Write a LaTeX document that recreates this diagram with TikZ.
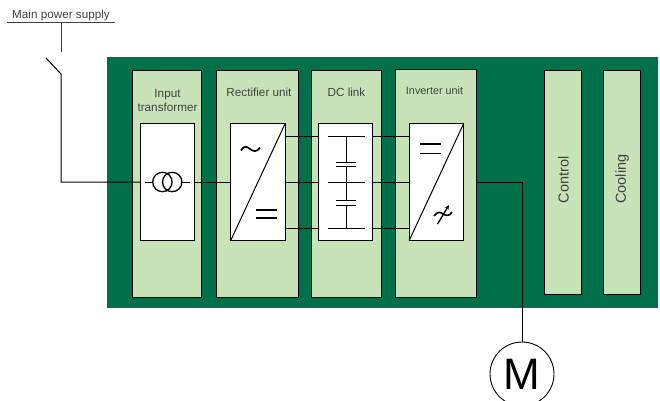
\documentclass[tikz,border=0pt]{standalone}
\usepackage{fontspec}
\setmainfont{Liberation Sans}
\usepackage{tikz}
\usetikzlibrary{arrows.meta,positioning,calc}

\definecolor{panelgreen}{HTML}{00704A}
\definecolor{unitgreen}{HTML}{C9E3B9}
\definecolor{labelgray}{HTML}{404040}

\begin{document}
\begin{tikzpicture}[
    x = 1pt,
    y = -1pt,
    wire/.style = {draw = black, line width = 1pt}, % connecting lines
    symbol/.style = {draw = black, line width = 1.3pt},
    unit/.style = {draw = black, line width = 0.9pt, fill = unitgreen, inner sep = 0pt, outer sep = 0pt, anchor = north west},
    innerbox/.style = {draw = black, line width = 1pt, fill = white, inner sep = 0pt, outer sep = 0pt,
        minimum width = 54.5pt, minimum height = 117pt, anchor = north west},
    caption/.style = {text = labelgray, font = \fontsize{11.7}{14.5}\selectfont, align = center, inner sep = 0pt}
    ]

    \useasboundingbox (0,0) rectangle (660,400);

    \node[fill = panelgreen, inner sep = 0pt, outer sep = 0pt, minimum width = 551pt, minimum height = 251pt, anchor = north west] (panel) at (107,57) {};

    % units
    \node[unit, minimum width = 69pt, minimum height = 227pt] (input) at (132,70) {};
    \node[unit, minimum width = 81.5pt, minimum height = 227pt] (rectifier) at (216.5,70) {};
    \node[unit, minimum width = 69.5pt, minimum height = 227pt] (dclink) at (311.5,70) {};
    \node[unit, minimum width = 81.5pt, minimum height = 228pt] (inverter) at (395,69) {};
    \node[unit, minimum width = 37pt, minimum height = 223.5pt] (control) at (544.7,70.7) {};
    \node[unit, minimum width = 37pt, minimum height = 223.5pt] (cooling) at (603.3,70.7) {};

    \node[innerbox] (inputbox) at (140,123.5) {};
    \node[innerbox] (rectbox) at (230.7,123.5) {};
    \node[innerbox] (dcbox) at (318.4,123.5) {};
    \node[innerbox] (invbox) at (409.2,123.5) {};

    % labels
    \node[caption] (inputlabel) at (167.5,100.5) {Input\\transformer};
    \node[caption] (rectlabel) at (259,92) {Rectifier unit};
    \node[caption] (dclabel) at (346.5,92) {DC link};
    \node[caption, font = \fontsize{10.8}{13}\selectfont] (invlabel) at (434.5,91) {Inverter unit};
    \node[caption, rotate = 90, font = \fontsize{14.5}{16}\selectfont] (controllabel) at (563.5,180) {Control};
    \node[caption, rotate = 90, font = \fontsize{14.5}{16}\selectfont] (coolinglabel) at (622,179) {Cooling};
    \node[caption, anchor = west] (supplylabel) at (12,15) {Main power supply};

    % supply and switch
    \coordinate (barleft) at (7,22.7);
    \coordinate (barright) at (115,22.7);
    \coordinate (barfoot) at (61,22.7);
    \coordinate (contact) at (61,52);
    \coordinate (hinge) at (61,74);
    \coordinate (blade) at (46,58);
    \coordinate (corner) at (61,182);
    \draw[wire, draw = labelgray] (barleft) -- (barright);
    \draw[wire, draw = labelgray] (barfoot) -- (contact);
    \draw[wire] (blade) -- (hinge) -- (corner) -- (inputbox.west |- corner);

    % buses
    \coordinate (bustop) at (0,136.7);
    \coordinate (busmid) at (0,182);
    \coordinate (busbot) at (0,228.7);
    \draw[wire] (inputbox.east |- busmid) -- (rectbox.west |- busmid);
    \foreach \bus in {bustop,busmid,busbot} {
        \draw[wire] (rectbox.east |- \bus) -- (dcbox.west |- \bus);
        \draw[wire] (dcbox.east |- \bus) -- (invbox.west |- \bus);
    }

    % transformer
    \draw[wire] (145,182) -- (152.7,182);
    \draw[wire] (182,182) -- (190,182);
    \draw[symbol] (162.4,182) circle (9.7pt);
    \draw[symbol] (172.2,182) circle (9.7pt);

    % converters
    \draw[wire] (rectbox.north east) -- (rectbox.south west);
    \draw[wire] (invbox.north east) -- (invbox.south west);
    \draw[symbol, line width = 1.7pt] (241,150.5) .. controls (245,144.5) and (247,147) .. (250,149) .. controls (253,151.5) and (257,152.5) .. (260,147.5);
    \draw[symbol, line width = 1.7pt] (256,210) -- (277,210) (256,218) -- (277,218);
    \draw[symbol, line width = 1.7pt] (420,144.3) -- (441,144.3) (420,153.5) -- (441,153.5);
    \draw[symbol, line width = 1.6pt] (434,216) .. controls (438,211) and (440,212) .. (443,214) .. controls (446,216) and (450,216) .. (452,212);
    \draw[symbol, -{Stealth[length = 4.5pt, width = 4pt]}] (437.5,224) -- (449,205);

    % dc link
    \draw[wire] (328,136.7) -- (365,136.7) (328,182) -- (365,182) (328,228.7) -- (365,228.7);
    \draw[wire] (346,136.7) -- (346,162.7) (346,166.7) -- (346,200.7) (346,205) -- (346,228.7);
    \draw[wire] (336,162.7) -- (356,162.7) (336,166.7) -- (356,166.7);
    \draw[wire] (336,200.7) -- (356,200.7) (336,205) -- (356,205);

    % motor
    \node[draw = black, circle, line width = 0.9pt, minimum size = 64pt, inner sep = 0pt, outer sep = 0pt,
        font = \fontsize{44}{44}\selectfont] (motor) at (522,374) {M};
    \coordinate (bend) at (522,182);
    \draw[wire] (inverter.east |- bend) -- (bend) -- (motor.north);
\end{tikzpicture}
\end{document}
